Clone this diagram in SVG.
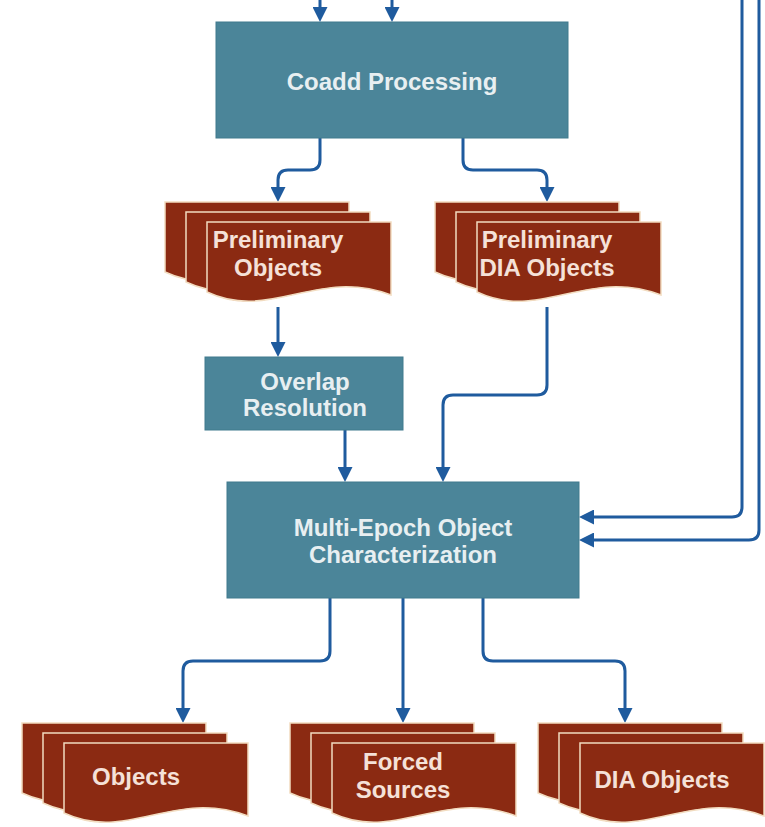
<svg xmlns="http://www.w3.org/2000/svg" width="765" height="827" viewBox="0 0 765 827">
<style>
.proc{fill:#4b8599;stroke:#417a8d;stroke-width:1}
.sheet{fill:#8b2a12;stroke:#f2dcc0;stroke-width:1.5}
.pt{font-family:"Liberation Sans",Arial,sans-serif;font-weight:bold;font-size:24px;fill:#e8eff1;text-anchor:middle}
.dt{font-family:"Liberation Sans",Arial,sans-serif;font-weight:bold;font-size:24px;fill:#f5e1d8;text-anchor:middle}
.c{fill:none;stroke:#1f5b9e;stroke-width:3;marker-end:url(#ah)}
</style>
<defs>
<marker id="ah" viewBox="0 0 10 10" refX="6" refY="5" markerWidth="15" markerHeight="15" markerUnits="userSpaceOnUse" orient="auto">
<path d="M0,0 L10,5 L0,10 z" fill="#1f5b9e"/>
</marker>
<path id="sheet" d="M0,0 H184 V73 C110,45 64,100 0,70 Z"/>
</defs>
<rect width="765" height="827" fill="#ffffff"/>
<g id="connectors">
<path class="c" d="M320,-5 V16"/>
<path class="c" d="M392,-5 V16"/>
<path class="c" d="M320,138 V160 Q320,170 310,170 H288 Q278,170 278,180 V196"/>
<path class="c" d="M463,138 V160 Q463,170 473,170 H537 Q547,170 547,180 V196"/>
<path class="c" d="M278,307 V351"/>
<path class="c" d="M547,307 V385 Q547,395 537,395 H453 Q443,395 443,405 V476"/>
<path class="c" d="M345,430 V476"/>
<path class="c" d="M742,-5 V507 Q742,517 732,517 H585"/>
<path class="c" d="M759,-5 V530 Q759,540 749,540 H585"/>
<path class="c" d="M330,598 V651 Q330,661 320,661 H193 Q183,661 183,671 V717"/>
<path class="c" d="M403,598 V717"/>
<path class="c" d="M483,598 V651 Q483,661 493,661 H615 Q625,661 625,671 V717"/>
</g>
<g id="coadd">
<rect class="proc" x="216" y="22" width="352" height="116"/>
<text class="pt" x="392" y="90">Coadd Processing</text>
</g>
<g id="prelim-objects">
<use href="#sheet" class="sheet" x="165" y="202"/>
<use href="#sheet" class="sheet" x="186" y="212"/>
<use href="#sheet" class="sheet" x="207" y="222"/>
<text class="dt" x="278" y="248">Preliminary</text>
<text class="dt" x="278" y="276">Objects</text>
</g>
<g id="prelim-dia-objects">
<use href="#sheet" class="sheet" x="435" y="202"/>
<use href="#sheet" class="sheet" x="456" y="212"/>
<use href="#sheet" class="sheet" x="477" y="222"/>
<text class="dt" x="547" y="248">Preliminary</text>
<text class="dt" x="547" y="276">DIA Objects</text>
</g>
<g id="overlap">
<rect class="proc" x="205" y="357" width="198" height="73"/>
<text class="pt" x="305" y="390">Overlap</text>
<text class="pt" x="305" y="416">Resolution</text>
</g>
<g id="multi-epoch">
<rect class="proc" x="227" y="482" width="352" height="116"/>
<text class="pt" x="403" y="536">Multi-Epoch Object</text>
<text class="pt" x="403" y="563">Characterization</text>
</g>
<g id="objects">
<use href="#sheet" class="sheet" x="22" y="723"/>
<use href="#sheet" class="sheet" x="43" y="733"/>
<use href="#sheet" class="sheet" x="64" y="743"/>
<text class="dt" x="136" y="785">Objects</text>
</g>
<g id="forced-sources">
<use href="#sheet" class="sheet" x="290" y="723"/>
<use href="#sheet" class="sheet" x="311" y="733"/>
<use href="#sheet" class="sheet" x="332" y="743"/>
<text class="dt" x="403" y="770">Forced</text>
<text class="dt" x="403" y="798">Sources</text>
</g>
<g id="dia-objects">
<use href="#sheet" class="sheet" x="538" y="723"/>
<use href="#sheet" class="sheet" x="559" y="733"/>
<use href="#sheet" class="sheet" x="580" y="743"/>
<text class="dt" x="662" y="788">DIA Objects</text>
</g>
</svg>
